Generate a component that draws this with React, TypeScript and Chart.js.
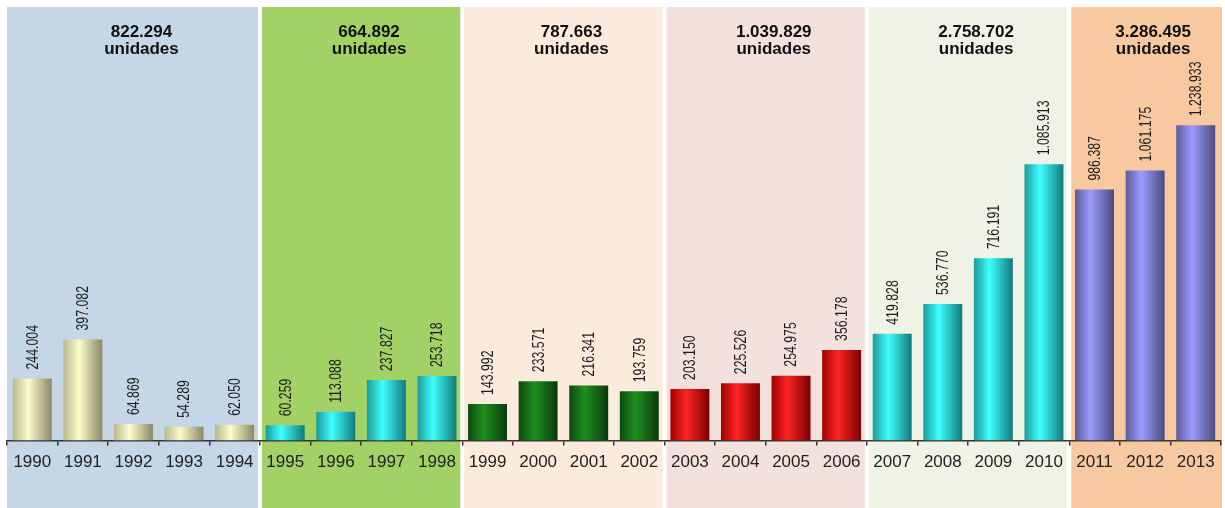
import React, { useEffect, useRef } from "react";
import { Chart, registerables } from "chart.js";

Chart.register(...registerables);

const years = [
  "1990", "1991", "1992", "1993", "1994",
  "1995", "1996", "1997", "1998",
  "1999", "2000", "2001", "2002",
  "2003", "2004", "2005", "2006",
  "2007", "2008", "2009", "2010",
  "2011", "2012", "2013",
];

const units = [
  244004, 397082, 64869, 54289, 62050,
  60259, 113088, 237827, 253718,
  143992, 233571, 216341, 193759,
  203150, 225526, 254975, 356178,
  419828, 536770, 716191, 1085913,
  986387, 1061175, 1238933,
];

const groupSizes = [5, 4, 4, 4, 4, 3];
const groupTotals = ["822.294", "664.892", "787.663", "1.039.829", "2.758.702", "3.286.495"];
const groupUnit = "unidades";

const bandColors = ["#c5d6e6", "#a2d266", "#fbebdd", "#f2e1dc", "#eef3e6", "#f8c9a0"];
// [left edge, center, right edge]
const barPalettes = [
  ["#b9b78e", "#fdfccb", "#8a8866"],
  ["#1a9a9a", "#40ffff", "#117a7a"],
  ["#0c4a0c", "#1f8f1f", "#0a3a0a"],
  ["#a00000", "#ff2424", "#7a0000"],
  ["#1a9a9a", "#40ffff", "#117a7a"],
  ["#5a5a9a", "#9c9cff", "#4a4a80"],
];

const groupOfIndex = (i: number) => {
  let acc = 0;
  for (let g = 0; g < groupSizes.length; g++) {
    acc += groupSizes[g];
    if (i < acc) return g;
  }
  return groupSizes.length - 1;
};

const fmt = (v: number) => String(v).replace(/\B(?=(\d{3})+(?!\d))/g, ".");

const bandsPlugin = {
  id: "bands",
  beforeDraw(chart: any) {
    const { ctx, chartArea } = chart;
    const x = chart.scales.x;
    const step = x.width / years.length;
    let start = 0;
    ctx.save();
    groupSizes.forEach((n, g) => {
      const left = x.left + start * step + (g === 0 ? 0 : 2);
      const right = x.left + (start + n) * step - (g === groupSizes.length - 1 ? -1 : 2);
      ctx.fillStyle = bandColors[g];
      ctx.fillRect(left, chartArea.top - 1, right - left, chart.height - chartArea.top + 1);
      start += n;
    });
    ctx.restore();
  },
  afterDraw(chart: any) {
    const { ctx, chartArea } = chart;
    const x = chart.scales.x;
    const step = x.width / years.length;
    let start = 0;
    ctx.save();
    ctx.fillStyle = "#111";
    ctx.textAlign = "center";
    ctx.textBaseline = "middle";
    ctx.font = "bold 17px 'Liberation Sans', Arial, sans-serif";
    groupSizes.forEach((n, g) => {
      const cx = x.left + (start + n / 2) * step + 8;
      ctx.fillText(groupTotals[g], cx, chartArea.top + 24);
      ctx.fillText(groupUnit, cx, chartArea.top + 41);
      start += n;
    });
    ctx.restore();
  },
  afterDatasetsDraw(chart: any) {
    const { ctx } = chart;
    const meta = chart.getDatasetMeta(0);
    ctx.save();
    ctx.fillStyle = "#1a1a1a";
    ctx.font = "14px 'Liberation Sans', Arial, sans-serif";
    ctx.textAlign = "left";
    ctx.textBaseline = "middle";
    meta.data.forEach((el: any, i: number) => {
      ctx.save();
      ctx.translate(el.x + 1, el.y - 9);
      ctx.rotate(-Math.PI / 2);
      ctx.scale(0.88, 1.15);
      ctx.fillText(fmt(units[i]), 0, 0);
      ctx.restore();
    });
    ctx.restore();
  },
};

export default function App() {
  const ref = useRef<HTMLCanvasElement | null>(null);

  useEffect(() => {
    if (!ref.current) return;
    const chart = new Chart(ref.current, {
      type: "bar",
      data: {
        labels: years,
        datasets: [
          {
            data: units,
            categoryPercentage: 1,
            barPercentage: 0.77,
            borderWidth: 0,
            backgroundColor: (c: any) => {
              const ch = c.chart;
              const pal = barPalettes[groupOfIndex(c.dataIndex)];
              const xs = ch.scales && ch.scales.x;
              if (!ch.chartArea || !xs) return pal[1];
              const step = xs.width / years.length;
              const cx = xs.getPixelForValue(c.dataIndex);
              const w = step * 0.77;
              const g = ch.ctx.createLinearGradient(cx - w / 2, 0, cx + w / 2, 0);
              g.addColorStop(0, pal[0]);
              g.addColorStop(0.4, pal[1]);
              g.addColorStop(1, pal[2]);
              return g;
            },
          },
        ],
      },
      options: {
        responsive: true,
        maintainAspectRatio: false,
        animation: false,
        layout: { padding: { left: 7, right: 4, top: 8, bottom: 28 } },
        plugins: { legend: { display: false }, tooltip: { enabled: false } },
        scales: {
          x: {
            grid: {
              display: true,
              drawOnChartArea: false,
              drawTicks: true,
              tickLength: 5,
              color: "#333",
              lineWidth: 1.5,
              offset: true,
            },
            border: { display: true, color: "#333", width: 1.5 },
            ticks: {
              color: "#222",
              padding: 7,
              maxRotation: 0,
              autoSkip: false,
              font: { family: "'Liberation Sans', Arial, sans-serif", size: 17 },
            },
          },
          y: {
            display: false,
            min: 0,
            max: 1700000,
          },
        },
      },
      plugins: [bandsPlugin],
    });
    return () => chart.destroy();
  }, []);

  return (
    <div style={{ position: "absolute", left: 0, top: 0, width: 1225, height: 508 }}>
      <canvas ref={ref} />
    </div>
  );
}
